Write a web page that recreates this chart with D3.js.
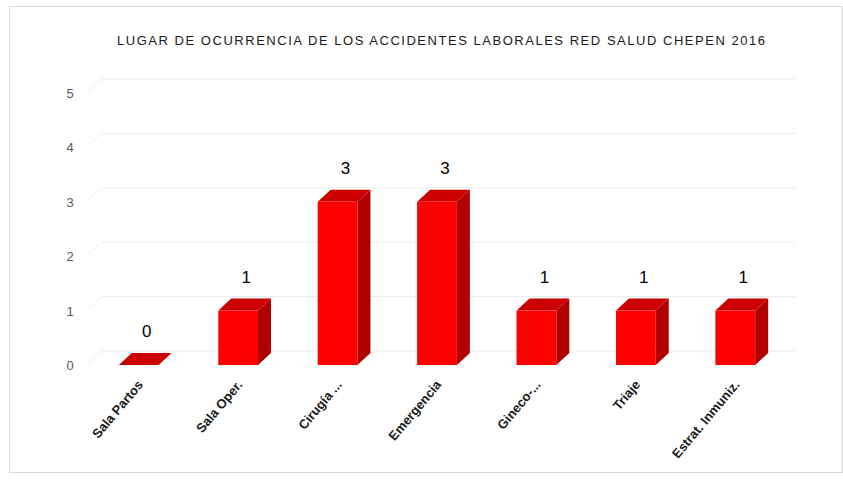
<!DOCTYPE html>
<html>
<head>
<meta charset="utf-8">
<script src="https://cdn.jsdelivr.net/npm/d3@7"></script>
<style>
  body { margin: 0; background: #fff; }
  text { font-family: "Liberation Sans", Arial, sans-serif; }
</style>
</head>
<body>
<script>
// data
var lugares = ["Sala Partos", "Sala Oper.", "Cirugía ...", "Emergencia", "Gineco-...", "Triaje", "Estrat. Inmuniz."];
var accidentes = [0, 1, 3, 3, 1, 1, 1];
var yTicks = [0, 1, 2, 3, 4, 5];
var titulo = "LUGAR DE OCURRENCIA DE LOS ACCIDENTES LABORALES RED SALUD CHEPEN  2016";

var W = 843, H = 480;
var depthX = 13, depthY = -12;

var svg = d3.select("body").append("svg")
	.attr("width", W)
	.attr("height", H);

// outer frame
svg.append("rect")
	.attr("x", 9.5).attr("y", 6.5)
	.attr("width", 833).attr("height", 466)
	.attr("fill", "#fff")
	.attr("stroke", "#d9d9d9");

svg.append("text")
	.attr("x", 441).attr("y", 45)
	.attr("text-anchor", "middle")
	.attr("font-size", 13)
	.attr("textLength", 648)
	.attr("fill", "#1a1a1a")
	.text(titulo);

var x = d3.scaleBand()
	.domain(lugares)
	.range([89, 785])
	.paddingInner(0.6)
	.paddingOuter(0.3);

var y = d3.scaleLinear()
	.domain([0, 5])
	.range([365, 93]);

// back wall gridlines and side wall edges
var grid = svg.append("g");
grid.selectAll("line.g")
	.data(yTicks)
	.enter().append("line")
	.attr("class", "g")
	.attr("x1", 89 + depthX).attr("x2", 795)
	.attr("y1", function (d) { return y(d) + depthY - 2; })
	.attr("y2", function (d) { return y(d) + depthY - 2; })
	.attr("stroke", "#ececec");
grid.selectAll("line.s")
	.data(yTicks)
	.enter().append("line")
	.attr("class", "s")
	.attr("x1", 86).attr("x2", 89 + depthX)
	.attr("y1", function (d) { return y(d); })
	.attr("y2", function (d) { return y(d) + depthY - 2; })
	.attr("stroke", "#f0f0f0");

// y axis labels
svg.selectAll("text.ytick")
	.data(yTicks)
	.enter().append("text")
	.attr("class", "ytick")
	.attr("x", 70).attr("y", function (d) { return y(d) + 5; })
	.attr("text-anchor", "middle")
	.attr("font-size", 13)
	.attr("fill", "#595959")
	.text(function (d) { return d; });

// 3D bars
var bars = svg.append("g").selectAll("g")
	.data(accidentes)
	.enter().append("g");

function face(pts) { return "M" + pts.map(function (p) { return p.join(","); }).join("L") + "Z"; }

bars.append("path")
	.attr("fill", "#b00000")
	.attr("d", function (d, i) {
		var x1 = x(lugares[i]) + x.bandwidth(), t = y(d), b = y(0);
		return face([[x1, t], [x1 + depthX, t + depthY], [x1 + depthX, b + depthY], [x1, b]]);
	});
bars.append("path")
	.attr("fill", "#cc0000")
	.attr("d", function (d, i) {
		var x0 = x(lugares[i]), x1 = x0 + x.bandwidth(), t = y(d);
		return face([[x0, t], [x0 + depthX, t + depthY], [x1 + depthX, t + depthY], [x1, t]]);
	});
bars.append("rect")
	.attr("fill", "#ff0000")
	.attr("x", function (d, i) { return x(lugares[i]); })
	.attr("y", function (d) { return y(d); })
	.attr("width", x.bandwidth())
	.attr("height", function (d) { return y(0) - y(d); });

// value labels
bars.append("text")
	.attr("x", function (d, i) { return x(lugares[i]) + x.bandwidth() / 2 + 8; })
	.attr("y", function (d) { return y(d) - 28; })
	.attr("text-anchor", "middle")
	.attr("font-size", 17)
	.attr("fill", "#000")
	.text(function (d) { return d; });

// x labels
svg.selectAll("text.xlab")
	.data(lugares)
	.enter().append("text")
	.attr("class", "xlab")
	.attr("transform", function (d) {
		return "translate(" + (x(d) + x.bandwidth() / 2 + 5) + ",385) rotate(-50)";
	})
	.attr("text-anchor", "end")
	.attr("font-family", "Open Sans, sans-serif")
	.attr("font-size", 13)
	.attr("font-weight", 600)
	.attr("fill", "#1a1a1a")
	.text(function (d) { return d; });
</script>
</body>
</html>
